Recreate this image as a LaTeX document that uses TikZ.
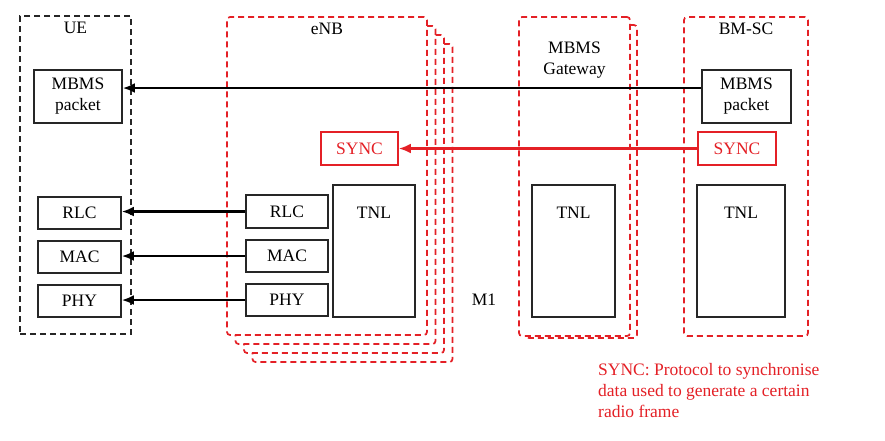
\documentclass[tikz,border=0pt]{standalone}
\usepackage{fontspec}
\setmainfont{Liberation Serif}
\usetikzlibrary{arrows.meta}
\definecolor{sred}{RGB}{228,32,38}
\tikzset{
  txt/.style={font=\fontsize{17.5}{21}\selectfont},
  box/.style={draw=black!85, line width=1.6pt, fill=white, inner sep=0pt, txt, align=center},
  rbox/.style={draw=sred, line width=1.6pt, fill=white, inner sep=0pt, txt, text=sred},
  cont/.style={draw=black!85, line width=1.7pt, dash pattern=on 6pt off 4pt, inner sep=0pt},
  rcont/.style={draw=sred, line width=1.7pt, dash pattern=on 6pt off 4pt, fill=white, inner sep=0pt, rounded corners=3pt},
  arr/.style={line width=2.4pt, -{Latex[length=12pt,width=10pt]}},
  rarr/.style={line width=2.4pt, draw=sred, -{Latex[length=12pt,width=10pt]}, sred},
}
\begin{document}
\begin{tikzpicture}[x=1pt,y=-1pt]
\useasboundingbox[fill=white] (0,0) rectangle (885,440);
% UE
\node[cont, minimum width=111pt, minimum height=318pt, label={[txt,anchor=north,yshift=-3pt]north:UE}] (ue) at (75.5,175) {};
% eNB stack
\node[rcont, minimum width=200pt, minimum height=318pt] (enb3) at (352.5,203) {};
\node[rcont, minimum width=200pt, minimum height=318pt] (enb2) at (344,194) {};
\node[rcont, minimum width=200pt, minimum height=318pt] (enb1) at (335.5,185) {};
\node[rcont, minimum width=200pt, minimum height=318pt, label={[txt,anchor=north,yshift=-3pt]north:eNB}] (enb) at (327,176) {};
% MBMS Gateway
\node[rcont, minimum width=111pt, minimum height=313pt] (gw1) at (581.5,181.5) {};
\node[rcont, minimum width=111pt, minimum height=319pt, label={[txt,anchor=north,align=center,yshift=-22pt]north:MBMS\\Gateway}] (gw) at (574.5,176.5) {};
% BM-SC
\node[rcont, minimum width=124pt, minimum height=319pt, label={[txt,anchor=north,yshift=-3pt]north:BM-SC}] (bm) at (746,176.5) {};
% UE inner
\node[box, minimum width=88pt, minimum height=53pt] (uepk) at (78,96.5) {MBMS\\packet};
\node[box, minimum width=83pt, minimum height=32pt] (uerlc) at (79.5,213) {RLC};
\node[box, minimum width=83pt, minimum height=32pt] (uemac) at (79.5,257) {MAC};
\node[box, minimum width=83pt, minimum height=32pt] (uephy) at (79.5,301) {PHY};
% eNB inner
\node[rbox, minimum width=77pt, minimum height=33pt] (enbsync) at (359.5,148.5) {SYNC};
\node[box, minimum width=82pt, minimum height=132pt, label={[txt,anchor=north,yshift=-19pt]north:TNL}] (enbtnl) at (374,251) {};
\node[box, minimum width=82pt, minimum height=33pt] (enbrlc) at (287,211.5) {RLC};
\node[box, minimum width=82pt, minimum height=32pt] (enbmac) at (287,256) {MAC};
\node[box, minimum width=82pt, minimum height=32pt] (enbphy) at (287,300) {PHY};
\node[txt] (m1) at (484,300) {M1};
% Gateway inner
\node[box, minimum width=83pt, minimum height=132pt, label={[txt,anchor=north,yshift=-19pt]north:TNL}] (gwtnl) at (573.5,251) {};
% BM-SC inner
\node[box, minimum width=89pt, minimum height=53pt] (bmpk) at (746.5,96.5) {MBMS\\packet};
\node[rbox, minimum width=78pt, minimum height=33pt] (bmsync) at (737,148.5) {SYNC};
\node[box, minimum width=88pt, minimum height=132pt, label={[txt,anchor=north,yshift=-19pt]north:TNL}] (bmtnl) at (741,251) {};
% arrows
\draw[arr] (bmpk.west |- 0,88) -- (uepk.east |- 0,88);
\draw[rarr] (bmsync.west) -- (enbsync.east);
\draw[arr] (enbrlc.west) -- (uerlc.east |- enbrlc.west);
\draw[arr] (enbmac.west) -- (uemac.east |- enbmac.west);
\draw[arr] (enbphy.west) -- (uephy.east |- enbphy.west);
% note
\node[txt, text=sred, anchor=north west, align=left, inner sep=0pt, font=\fontsize{17.5}{21}\selectfont] (note) at (598,363) {SYNC: Protocol to synchronise\\data used to generate a certain\\radio frame};
\end{tikzpicture}
\end{document}
